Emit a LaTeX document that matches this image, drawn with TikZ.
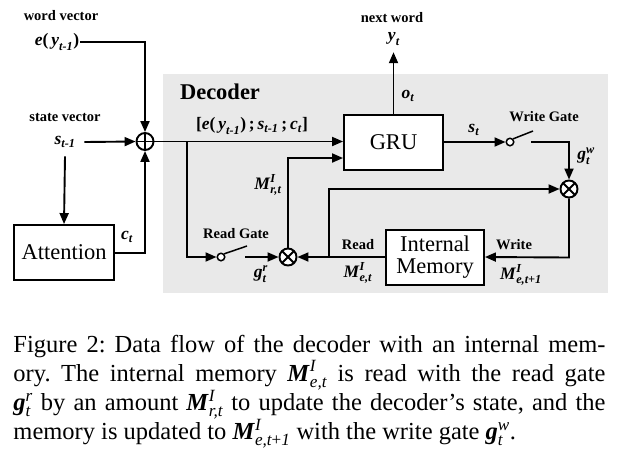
\documentclass[tikz,border=0pt]{standalone}
\usepackage{amsmath}
\usepackage{fontspec}
\setmainfont{Liberation Serif}
\usetikzlibrary{arrows.meta,calc}
\definecolor{decgray}{RGB}{233,233,233}
\newcommand\bi[1]{\textbf{\textit{#1}}}
\newcommand\capline[1]{\makebox[592pt][s]{#1}}
\begin{document}
\frenchspacing
\begin{tikzpicture}[x=1pt,y=-1pt,
  line width=1.9pt,
  arr/.style={-{Triangle[length=11pt,width=9pt]}},
  box/.style={draw,rectangle,fill=white,inner sep=0pt,align=center,font=\fontsize{22.5}{25}\selectfont},
  opcirc/.style={draw,circle,fill=white,minimum size=17pt,inner sep=0pt},
  plusop/.style={opcirc,path picture={
     \draw (path picture bounding box.north) -- (path picture bounding box.south);
     \draw (path picture bounding box.west) -- (path picture bounding box.east);}},
  timesop/.style={opcirc,path picture={
     \draw (path picture bounding box.north west) -- (path picture bounding box.south east);
     \draw (path picture bounding box.north east) -- (path picture bounding box.south west);}},
  swc/.style={draw,circle,fill=white,minimum size=7.5pt,inner sep=0pt,line width=1.5pt},
  lbl/.style={font=\bfseries\fontsize{14.5}{16}\selectfont,inner sep=0pt},
  ml/.style={font=\fontsize{17.5}{19}\selectfont,inner sep=0pt},
  capt/.style={font=\fontsize{24.5}{29}\selectfont,inner sep=0pt,anchor=base west},
]
\useasboundingbox (0,0) rectangle (620,459);
\fill[white] (0,0) rectangle (620,459);
% decoder background
\fill[decgray] (163,74) rectangle (608,293);
\node[font=\bfseries\fontsize{22.5}{25}\selectfont,inner sep=0pt] (declbl) at (220,92) {Decoder};

% inputs
\node[lbl] (wv) at (61,16) {word vector};
\node[ml] (ey) at (57,42) {$\bi{e}\textbf{(}\,\bi{y}_{\bi{t-1}}\textbf{)}$};
\node[lbl] (sv) at (65,117) {state vector};
\node[ml] (sp) at (65,142) {$\bi{s}_{\bi{t-1}}$};

% operators and boxes
\node[plusop] (plus) at (145,141.5) {};
\node[box,minimum width=100pt,minimum height=55pt] (att) at (64,252.5) {Attention};
\node[box,minimum width=99pt,minimum height=55pt] (gru) at (393.5,142.5) {GRU};
\node[box,minimum width=98pt,minimum height=55pt] (mem) at (435,257.5) {Internal\\[-3pt]Memory};
\node[timesop] (rop) at (288,257) {};
\node[timesop] (wop) at (569,189) {};
\node[swc] (rsw) at (221,257) {};
\node[swc] (wsw) at (510,142) {};
\coordinate (rlev) at (247,246);
\coordinate (wlev) at (533,131);
\coordinate (rout) at (245,257);
\coordinate (wout) at (531,142);
\coordinate (br1) at (187,141.5);
\coordinate (br2) at (329,257);
\node[ml] (yt) at (394,39) {$\bi{y}_{\bi{t}}$};
\node[lbl] (nw) at (392,18) {next word};

% switches
\draw[line width=1.5pt] (rsw.north east) -- (rlev);
\draw[line width=1.5pt] (wsw.north east) -- (wlev);

% connectors
\draw[arr] (ey.east) -- (ey.east -| plus) -- (plus.north);
\draw[arr] ([xshift=8pt]sp.east) -- (plus.west);
\draw[arr] ([yshift=-8pt]sp.south) -- (att.north);
\draw[arr] (att.east |- 0,253) -- (145,253) -- (plus.south);
\draw[arr] (plus.east) -- (plus.east -| gru.west);
\draw[arr] (br1) -- (br1 |- rsw) -- (rsw.west);
\draw[arr] (rout) -- (rop.west);
\draw[arr] (rop.north) -- (288,158) -- (gru.west |- 0,158);
\draw[arr] (mem.west |- rop) -- (rop.east);
\draw[arr] (br2) -- (br2 |- wop) -- (wop.west);
\draw[arr] (wop.south) -- (wop.south |- mem) -- (mem.east |- 0,257);
\draw[arr] (gru.east |- wsw) -- (wsw.west);
\draw[arr] (wout) -- (wout -| wop) -- (wop.north);
\draw[arr,shorten >=6pt] (gru.north) -- (gru.north |- yt.south);

% labels
\node[ml] (cat) at (252,126) {$\textbf{[}\bi{e}\textbf{(}\,\bi{y}_{\bi{t-1}}\textbf{)}\,\textbf{;}\,\bi{s}_{\bi{t-1}}\,\textbf{;}\,\bi{c}_{\bi{t}}\textbf{]}$};
\node[ml] (ct) at (127,237) {$\bi{c}_{\bi{t}}$};
\node[ml] (ot) at (408,96) {$\bi{o}_{\bi{t}}$};
\node[ml] (st) at (474,130) {$\bi{s}_{\bi{t}}$};
\node[lbl] (wg) at (544,117) {Write Gate};
\node[ml] (gw) at (586,156) {$\bi{g}^{\bi{w}}_{\bi{t}}$};
\node[lbl] (rg) at (236,234) {Read Gate};
\node[ml] (gr) at (261,274) {$\bi{g}^{\bi{r}}_{\bi{t}}$};
\node[ml] (mrt) at (268,185) {$\bi{M}^{\bi{I}}_{\bi{r,t}}$};
\node[lbl] (rd) at (358,245) {Read};
\node[ml] (met) at (358,273) {$\bi{M}^{\bi{I}}_{\bi{e,t}}$};
\node[lbl] (wr) at (514,245) {Write};
\node[ml] (met1) at (521,275) {$\bi{M}^{\bi{I}}_{\bi{e,t+1}}$};

% caption
\node[capt] (c1) at (12.5,352.5) {\capline{Figure 2: Data flow of the decoder with an internal mem-}};
\node[capt] (c2) at (12.5,381) {\capline{ory. The internal memory $\bi{M}^{\textit{I}}_{\textit{e,t}}$ is read with the read gate}};
\node[capt] (c3) at (12.5,410.5) {\capline{$\bi{g}^{\textit{r}}_{\textit{t}}$ by an amount $\bi{M}^{\textit{I}}_{\textit{r,t}}$ to update the decoder’s state, and the}};
\node[capt] (c4) at (12.5,439.5) {memory is updated to $\bi{M}^{\textit{I}}_{\textit{e,t}\text{+}\textit{1}}$ with the write gate $\bi{g}^{\textit{w}}_{\textit{t}}$.};
\end{tikzpicture}
\end{document}
